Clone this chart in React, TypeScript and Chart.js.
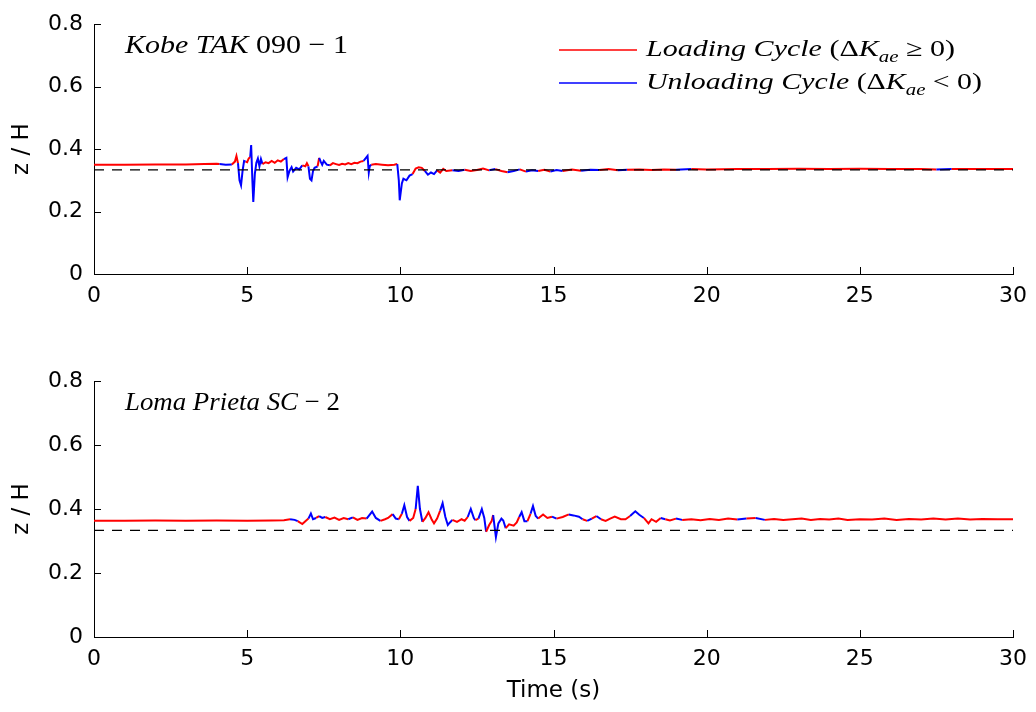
import React, { useEffect, useRef } from 'react';
import { Chart, registerables } from 'chart.js';
Chart.register(...registerables);

// ---------- data ----------
const X_TICKS = [0, 5, 10, 15, 20, 25, 30];
const Y_TICKS = [0, 0.2, 0.4, 0.6, 0.8];
const REF_LEVEL = 1 / 3;

const KOBE_TIME = [
  0, 1, 2, 3, 3.6, 4.0, 4.1, 4.3, 4.5, 4.6,
  4.65, 4.7, 4.75, 4.8, 4.85, 4.9, 4.95, 5.0, 5.05, 5.1,
  5.13, 5.17, 5.2, 5.25, 5.3, 5.35, 5.4, 5.45, 5.5, 5.6,
  5.7, 5.8, 5.9, 6.0, 6.1, 6.2, 6.28, 6.32, 6.38, 6.45,
  6.5, 6.6, 6.7, 6.8, 6.9, 6.95, 7.0, 7.05, 7.1, 7.15,
  7.2, 7.3, 7.35, 7.4, 7.45, 7.5, 7.6, 7.7, 7.8, 7.9,
  8.0, 8.1, 8.2, 8.3, 8.4, 8.5, 8.6, 8.7, 8.8, 8.93,
  8.97, 9.0, 9.05, 9.2, 9.4, 9.6, 9.8, 9.9, 9.95, 9.98,
  10.05, 10.1, 10.2, 10.3, 10.4, 10.5, 10.6, 10.7, 10.8, 10.9,
  11.0, 11.1, 11.2, 11.3, 11.4, 11.5, 11.7, 11.9, 12.1, 12.3,
  12.5, 12.7, 12.9, 13.1, 13.3, 13.5, 13.7, 13.9, 14.1, 14.3,
  14.5, 14.7, 14.9, 15.1, 15.3, 15.6, 15.9, 16.2, 16.5, 16.8,
  17.1, 17.4, 17.8, 18.2, 18.6, 19.0, 19.5, 20, 21, 22,
  23, 24, 25, 26, 27, 27.5, 28, 29, 30,
];
const KOBE_Z = [
  0.350, 0.350, 0.351, 0.351, 0.352, 0.353, 0.352, 0.350, 0.351, 0.360,
  0.378, 0.355, 0.300, 0.284, 0.330, 0.362, 0.360, 0.358, 0.370, 0.375,
  0.413, 0.300, 0.231, 0.320, 0.356, 0.370, 0.345, 0.368, 0.352, 0.358,
  0.355, 0.362, 0.356, 0.364, 0.360, 0.368, 0.372, 0.310, 0.330, 0.342,
  0.328, 0.340, 0.335, 0.348, 0.345, 0.355, 0.345, 0.305, 0.300, 0.330,
  0.340, 0.345, 0.372, 0.360, 0.350, 0.362, 0.350, 0.348, 0.355, 0.352,
  0.349, 0.353, 0.351, 0.355, 0.352, 0.356, 0.355, 0.360, 0.362, 0.378,
  0.325, 0.345, 0.350, 0.352, 0.350, 0.348, 0.350, 0.352, 0.300, 0.236,
  0.290, 0.305, 0.300, 0.315, 0.320, 0.338, 0.342, 0.340, 0.330, 0.318,
  0.325, 0.320, 0.332, 0.325, 0.337, 0.330, 0.332, 0.330, 0.334, 0.330,
  0.333, 0.338, 0.332, 0.336, 0.330, 0.326, 0.330, 0.335, 0.328, 0.332,
  0.330, 0.334, 0.328, 0.333, 0.330, 0.335, 0.331, 0.334, 0.333, 0.336,
  0.332, 0.334, 0.335, 0.333, 0.335, 0.334, 0.336, 0.335, 0.336, 0.336,
  0.337, 0.336, 0.337, 0.336, 0.336, 0.335, 0.336, 0.336, 0.336,
];
// L = loading cycle (red), U = unloading cycle (blue); applies to the segment starting at each point
const KOBE_PHASE = [
  'LLLLLLUULL', 'LUUUUULLLU', 'UUUUUUUULL', 'LLLLLUUUUU', 'UUULLLUUUU',
  'ULUUUUULLL', 'LLLLLLLLUU', 'UULLLLLUUU', 'UUUULLLLUU', 'UULLLLUULL',
  'LLULLUULUU', 'LLUULLUULL', 'ULLLLULLLL', 'LLLLLULLL',
].join('').split('');

const LOMA_TIME = [
  0, 1, 2, 3, 4, 5, 5.8, 6.2, 6.4, 6.55,
  6.65, 6.8, 6.9, 7.0, 7.08, 7.15, 7.25, 7.35, 7.45, 7.55,
  7.7, 7.85, 8.0, 8.15, 8.3, 8.45, 8.6, 8.75, 8.9, 9.08,
  9.2, 9.35, 9.5, 9.6, 9.75, 9.85, 9.95, 10.05, 10.13, 10.22,
  10.3, 10.42, 10.5, 10.57, 10.64, 10.72, 10.82, 10.92, 11.02, 11.1,
  11.2, 11.3, 11.38, 11.47, 11.55, 11.62, 11.7, 11.85, 12.0, 12.1,
  12.2, 12.3, 12.4, 12.45, 12.55, 12.66, 12.74, 12.8, 12.9, 12.98,
  13.03, 13.12, 13.2, 13.3, 13.36, 13.44, 13.55, 13.7, 13.8, 13.88,
  13.96, 14.05, 14.15, 14.25, 14.33, 14.42, 14.5, 14.66, 14.8, 14.95,
  15.1, 15.3, 15.5, 15.65, 15.83, 15.95, 16.1, 16.25, 16.4, 16.55,
  16.7, 16.85, 17.0, 17.2, 17.35, 17.5, 17.67, 17.8, 17.95, 18.1,
  18.2, 18.35, 18.5, 18.65, 18.8, 19.0, 19.2, 19.5, 19.8, 20.1,
  20.4, 20.7, 21.0, 21.3, 21.6, 21.9, 22.2, 22.5, 22.8, 23.1,
  23.4, 23.7, 24, 24.3, 24.6, 25, 25.4, 25.8, 26.2, 26.6,
  27, 27.4, 27.8, 28.2, 28.6, 29, 29.5, 30,
];
const LOMA_Z = [
  0.363, 0.363, 0.364, 0.363, 0.364, 0.363, 0.364, 0.365, 0.368, 0.366,
  0.362, 0.353, 0.362, 0.370, 0.386, 0.368, 0.372, 0.378, 0.372, 0.375,
  0.368, 0.373, 0.366, 0.372, 0.368, 0.374, 0.366, 0.372, 0.370, 0.392,
  0.372, 0.363, 0.368, 0.372, 0.384, 0.370, 0.368, 0.385, 0.412, 0.375,
  0.363, 0.372, 0.400, 0.472, 0.400, 0.360, 0.372, 0.390, 0.368, 0.355,
  0.370, 0.395, 0.418, 0.375, 0.350, 0.358, 0.366, 0.360, 0.368, 0.363,
  0.375, 0.400, 0.372, 0.365, 0.370, 0.400, 0.372, 0.329, 0.350, 0.362,
  0.381, 0.312, 0.355, 0.370, 0.364, 0.340, 0.352, 0.348, 0.358, 0.375,
  0.390, 0.362, 0.362, 0.385, 0.409, 0.378, 0.370, 0.383, 0.372, 0.376,
  0.370, 0.375, 0.383, 0.380, 0.376, 0.368, 0.363, 0.370, 0.378, 0.368,
  0.363, 0.370, 0.376, 0.368, 0.368, 0.378, 0.393, 0.382, 0.372, 0.355,
  0.368, 0.360, 0.372, 0.368, 0.364, 0.370, 0.366, 0.368, 0.365, 0.369,
  0.366, 0.370, 0.367, 0.370, 0.372, 0.366, 0.369, 0.366, 0.368, 0.370,
  0.366, 0.369, 0.367, 0.370, 0.366, 0.368, 0.367, 0.370, 0.366, 0.369,
  0.367, 0.370, 0.367, 0.370, 0.367, 0.369, 0.368, 0.368,
];
const LOMA_PHASE = [
  'LLLLLLLLUU', 'LLLUUULUUL', 'LLLLULLLUU', 'ULLLUULUUU', 'LLUUULLLLL',
  'LUUUUULLLL', 'UUULUUULLL', 'UUUUULLLLU', 'UULUUULLLU', 'LLUUULULUL',
  'LLLLLUUULL', 'LLULLULLLL', 'LLULULLLLL', 'LLLLLLLLLL', 'LLLLLLLL',
].join('').split('');

// ---------- styling ----------
const RED = '#ff0000';
const BLUE = '#0000ff';
const SANS = '"DejaVu Sans", "Liberation Sans", sans-serif';
const SERIF = '"Liberation Serif", "DejaVu Serif", serif';

type Part = { t: string; it?: boolean; sub?: boolean };

function drawMath(ctx: CanvasRenderingContext2D, parts: Part[], x: number, y: number, size: number, targetW: number) {
  const font = (p: Part) => `${p.it ? 'italic ' : ''}${p.sub ? Math.round(size * 0.7) : size}px ${SERIF}`;
  let w = 0;
  for (const p of parts) { ctx.font = font(p); w += ctx.measureText(p.t).width; }
  const sx = targetW / w;
  ctx.save();
  ctx.translate(x, y);
  ctx.scale(sx, 1);
  ctx.fillStyle = '#000';
  ctx.textBaseline = 'alphabetic';
  ctx.textAlign = 'left';
  let cx = 0;
  for (const p of parts) {
    ctx.font = font(p);
    ctx.fillText(p.t, cx, p.sub ? size * 0.25 : 0);
    cx += ctx.measureText(p.t).width;
  }
  ctx.restore();
}

type PanelCfg = {
  time: number[];
  z: number[];
  phase: string[];
  padTop: number;
  xAxisH: number;
  note: Part[];
  noteW: number;
  legend: boolean;
  xTitle: boolean;
};

function makeChart(canvas: HTMLCanvasElement, cfg: PanelCfg) {
  const points = cfg.time.map((t, i) => ({ x: t, y: cfg.z[i] }));
  const refLine = [{ x: X_TICKS[0], y: REF_LEVEL }, { x: X_TICKS[X_TICKS.length - 1], y: REF_LEVEL }];

  const deco = {
    id: 'deco',
    afterDraw(chart: any) {
      const ctx: CanvasRenderingContext2D = chart.ctx;
      const { left, right, top, bottom } = chart.chartArea;
      const xs = chart.scales.x;
      const ys = chart.scales.y;
      ctx.save();
      ctx.strokeStyle = '#000';
      ctx.lineWidth = 1;
      ctx.beginPath();
      for (const v of Y_TICKS) {
        const py = Math.round(ys.getPixelForValue(v)) + 0.5;
        ctx.moveTo(left, py);
        ctx.lineTo(left + 7, py);
      }
      for (const v of X_TICKS) {
        const px = Math.round(xs.getPixelForValue(v)) + 0.5;
        ctx.moveTo(px, bottom);
        ctx.lineTo(px, bottom - 7);
      }
      ctx.stroke();

      // y label
      ctx.save();
      ctx.translate(22, (top + bottom) / 2);
      ctx.rotate(-Math.PI / 2);
      ctx.font = `23px ${SANS}`;
      ctx.fillStyle = '#000';
      ctx.textAlign = 'center';
      ctx.textBaseline = 'middle';
      ctx.fillText('z / H', 0, 0);
      ctx.restore();

      // annotation
      drawMath(ctx, cfg.note, 125, top + 29, 26, cfg.noteW);

      if (cfg.legend) {
        ctx.lineWidth = 1.6;
        ctx.strokeStyle = RED;
        ctx.beginPath(); ctx.moveTo(559, 50); ctx.lineTo(637, 50); ctx.stroke();
        ctx.strokeStyle = BLUE;
        ctx.beginPath(); ctx.moveTo(559, 83); ctx.lineTo(637, 83); ctx.stroke();
        drawMath(ctx, [
          { t: 'Loading Cycle ', it: true }, { t: '(Δ' }, { t: 'K', it: true },
          { t: 'ae', it: true, sub: true }, { t: ' ≥ 0)' },
        ], 646, 56, 23, 309);
        drawMath(ctx, [
          { t: 'Unloading Cycle ', it: true }, { t: '(Δ' }, { t: 'K', it: true },
          { t: 'ae', it: true, sub: true }, { t: ' < 0)' },
        ], 646, 89, 23, 336);
      }

      if (cfg.xTitle) {
        ctx.font = `23px ${SANS}`;
        ctx.fillStyle = '#000';
        ctx.textAlign = 'center';
        ctx.textBaseline = 'middle';
        ctx.fillText('Time (s)', (left + right) / 2, bottom + 54);
      }
      ctx.restore();
    },
  };

  return new Chart(canvas, {
    type: 'line',
    data: {
      datasets: [
        {
          data: refLine,
          borderColor: '#000',
          borderWidth: 1.2,
          borderDash: [10, 8],
          pointRadius: 0,
          order: 0,
        },
        {
          data: points,
          borderColor: RED,
          borderWidth: 2,
          pointRadius: 0,
          tension: 0,
          order: 1,
          segment: {
            borderColor: (c: any) => (cfg.phase[c.p0DataIndex] === 'U' ? BLUE : RED),
          },
        },
      ],
    },
    options: {
      animation: false,
      responsive: false,
      devicePixelRatio: 1,
      layout: { padding: { top: cfg.padTop, right: 21, left: 0, bottom: 0 } },
      plugins: { legend: { display: false }, tooltip: { enabled: false } },
      events: [],
      scales: {
        x: {
          type: 'linear',
          min: X_TICKS[0],
          max: X_TICKS[X_TICKS.length - 1],
          afterBuildTicks: (s: any) => { s.ticks = X_TICKS.map((v) => ({ value: v })); },
          afterFit: (s: any) => { s.height = cfg.xAxisH; },
          grid: { display: false, drawTicks: false },
          border: { display: true, color: '#000', width: 1 },
          ticks: {
            color: '#000',
            font: { family: SANS, size: 22 },
            padding: 9,
            maxRotation: 0,
            callback: (v: any) => String(v),
          },
        },
        y: {
          type: 'linear',
          min: Y_TICKS[0],
          max: Y_TICKS[Y_TICKS.length - 1],
          afterBuildTicks: (s: any) => { s.ticks = Y_TICKS.map((v) => ({ value: v })); },
          afterFit: (s: any) => { s.width = 94; },
          grid: { display: false, drawTicks: false },
          border: { display: true, color: '#000', width: 1 },
          ticks: {
            color: '#000',
            font: { family: SANS, size: 22 },
            padding: 11,
            callback: (v: any) => String(v),
          },
        },
      },
    },
    plugins: [deco],
  } as any);
}

export default function App() {
  const topRef = useRef<HTMLCanvasElement>(null);
  const botRef = useRef<HTMLCanvasElement>(null);

  useEffect(() => {
    document.body.style.margin = '0';
    const c1 = makeChart(topRef.current!, {
      time: KOBE_TIME, z: KOBE_Z, phase: KOBE_PHASE,
      padTop: 18, xAxisH: 66,
      note: [{ t: 'Kobe', it: true }, { t: ' ' }, { t: 'TAK', it: true }, { t: ' 090 − 1' }],
      noteW: 223, legend: true, xTitle: false,
    });
    const c2 = makeChart(botRef.current!, {
      time: LOMA_TIME, z: LOMA_Z, phase: LOMA_PHASE,
      padTop: 25, xAxisH: 75,
      note: [{ t: 'Loma Prieta', it: true }, { t: ' ' }, { t: 'SC', it: true }, { t: ' − 2' }],
      noteW: 215, legend: false, xTitle: true,
    });
    return () => { c1.destroy(); c2.destroy(); };
  }, []);

  return (
    <div style={{ position: 'absolute', left: 0, top: 0, width: 1036, height: 712, background: '#fff' }}>
      <canvas ref={topRef} width={1036} height={340} style={{ position: 'absolute', left: 0, top: 0, width: 1036, height: 340 }} />
      <canvas ref={botRef} width={1036} height={356} style={{ position: 'absolute', left: 0, top: 356, width: 1036, height: 356 }} />
    </div>
  );
}
